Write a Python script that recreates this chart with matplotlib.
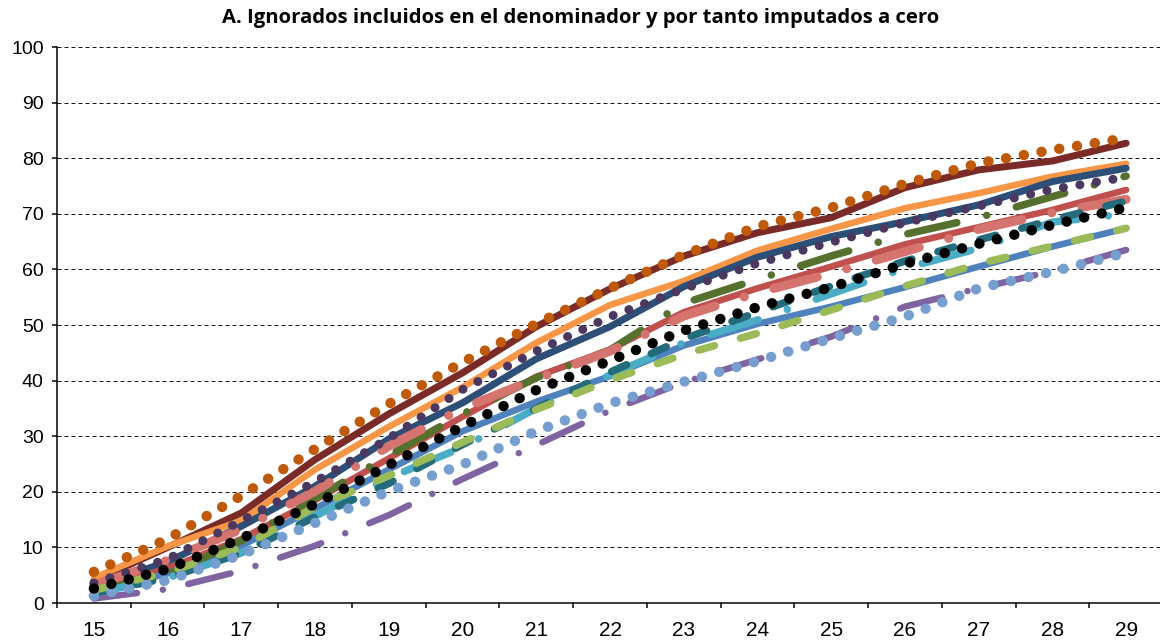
import matplotlib
matplotlib.use('Agg')
import matplotlib.pyplot as plt

# edades (eje x) y porcentajes acumulados por serie
edades = list(range(15, 30))

granate = [4.0, 10.0, 16.2, 25.8, 34.0, 41.4, 49.7, 56.5, 62.4, 66.6, 69.3, 74.7, 77.9, 79.5, 82.7]
naranja = [4.5, 10.2, 14.8, 24.0, 31.7, 38.8, 46.8, 53.6, 57.9, 63.4, 67.3, 71.0, 73.7, 76.7, 79.0]
azul_oscuro = [3.0, 7.4, 13.8, 21.0, 29.5, 36.0, 43.9, 49.7, 56.9, 62.2, 65.9, 68.6, 71.6, 75.8, 78.2]
rojo = [2.5, 6.2, 11.5, 18.5, 26.0, 33.5, 40.7, 45.6, 52.3, 56.6, 60.5, 64.5, 67.6, 70.7, 74.3]
azul_medio = [2.0, 5.3, 10.3, 17.0, 24.0, 30.9, 36.2, 40.8, 46.3, 50.2, 53.3, 56.8, 60.5, 64.1, 67.4]
morado = [0.8, 2.5, 5.8, 10.3, 15.8, 22.3, 28.4, 34.6, 39.7, 43.8, 47.9, 53.3, 56.6, 59.7, 63.5]
oliva = [2.0, 5.2, 11.2, 18.8, 26.5, 34.0, 40.5, 45.5, 53.9, 58.2, 62.4, 66.3, 69.3, 73.1, 76.8]
salmon = [3.2, 7.7, 13.3, 20.1, 28.2, 35.0, 40.3, 45.3, 51.6, 55.8, 59.3, 63.2, 67.2, 70.2, 72.6]
turquesa = [1.8, 4.5, 9.0, 15.6, 22.5, 28.0, 35.0, 41.0, 46.8, 50.9, 55.6, 60.2, 63.8, 68.5, 70.0]
verde_azulado = [1.8, 4.5, 9.0, 15.5, 21.5, 28.5, 35.0, 41.5, 47.5, 52.3, 57.0, 61.5, 65.3, 68.9, 72.3]
verde_claro = [2.3, 5.5, 10.0, 17.3, 22.9, 28.9, 34.8, 40.1, 44.7, 48.5, 52.7, 57.0, 61.0, 64.2, 67.4]
morado_osc_punt = [3.6, 7.9, 14.8, 21.8, 29.6, 38.4, 45.3, 51.5, 56.5, 61.1, 64.9, 68.4, 71.4, 74.4, 76.6]
marron_punt = [5.6, 11.5, 19.3, 27.7, 35.8, 43.3, 50.2, 56.6, 62.6, 67.7, 71.1, 75.4, 79.1, 81.5, 83.6]
celeste_punt = [1.3, 4.1, 8.7, 14.4, 20.1, 24.9, 30.9, 35.9, 39.8, 43.5, 47.6, 51.5, 56.6, 59.6, 63.0]
negro_punt = [2.6, 6.1, 11.6, 17.8, 24.8, 31.8, 38.3, 43.6, 49.0, 53.2, 56.8, 61.0, 64.6, 68.0, 71.1]

titulo = 'A. Ignorados incluidos en el denominador y por tanto imputados a cero'

PX = 72 / 100.0  # puntos por pixel a dpi 100

# patrones de trazo (en unidades de grosor de linea)
PUNTO = (0, (0.01, 1.72))
RAYA_PUNTO = (0, (6.7, 4.1, 0.01, 4.1))
RAYA = (0, (2.2, 3.6))

# orden de dibujo: de abajo hacia arriba
series = [
    (granate, '#7A2B28', 7.0, '-'),
    (naranja, '#F79646', 6.5, '-'),
    (azul_oscuro, '#2D4E76', 7.0, '-'),
    (rojo, '#C0504D', 6.5, '-'),
    (azul_medio, '#4F81BD', 6.5, '-'),
    (morado, '#8064A2', 6.5, (0, (6.7, 4.0, 0.01, 4.0))),
    (oliva, '#56702E', 7.5, RAYA_PUNTO),
    (salmon, '#D5736F', 9.0, (0, (5.0, 3.4, 0.01, 3.4))),
    (turquesa, '#4BACC6', 7.5, RAYA_PUNTO),
    (verde_azulado, '#246B7B', 7.5, RAYA),
    (verde_claro, '#9BBB59', 7.5, RAYA),
    (morado_osc_punt, '#4A3860', 9.0, (0, (0.01, 1.85))),
    (marron_punt, '#BE5A0A', 10.4, PUNTO),
    (celeste_punt, '#769FD0', 10.4, PUNTO),
    (negro_punt, '#000000', 10.4, PUNTO),
]

fig = plt.figure(figsize=(11.6, 6.42), dpi=100)
ax = fig.add_axes([57 / 1160, 39 / 642, (1163 - 57) / 1160, 556 / 642])

for vals, color, ancho, estilo in series:
    ax.plot(edades, vals, color=color, lw=ancho * PX, linestyle=estilo,
            dash_capstyle='round', solid_capstyle='round',
            solid_joinstyle='round', dash_joinstyle='round')

ax.set_xlim(14.5, 29.5)
ax.set_ylim(0, 100)

# rejilla horizontal discontinua
for y in range(10, 101, 10):
    ax.axhline(y, color='#1a1a1a', lw=1.0 * PX, linestyle=(0, (4, 3)), zorder=0)

ax.spines['top'].set_visible(False)
ax.spines['right'].set_visible(False)
ax.spines['left'].set_linewidth(1.5 * PX)
ax.spines['bottom'].set_linewidth(1.5 * PX)

ax.set_yticks(range(0, 101, 10))
ax.set_xticks(edades)
ax.set_xticks([e + 0.5 for e in range(14, 30)], minor=True)
ax.tick_params(axis='y', direction='out', length=5 * PX, width=1.5 * PX, pad=6,
               labelsize=14)
ax.tick_params(axis='x', which='major', length=0, pad=13, labelsize=15)
ax.tick_params(axis='x', which='minor', direction='out', length=5 * PX, width=1.5 * PX)
for lab in ax.get_xticklabels() + ax.get_yticklabels():
    lab.set_family('Liberation Sans')

fig.text(581 / 1160, 1 - 18 / 642, titulo, ha='center', va='center',
         fontsize=14.6, fontweight='bold', family=['Open Sans', 'DejaVu Sans'])

fig.savefig('out.png', dpi=100)
